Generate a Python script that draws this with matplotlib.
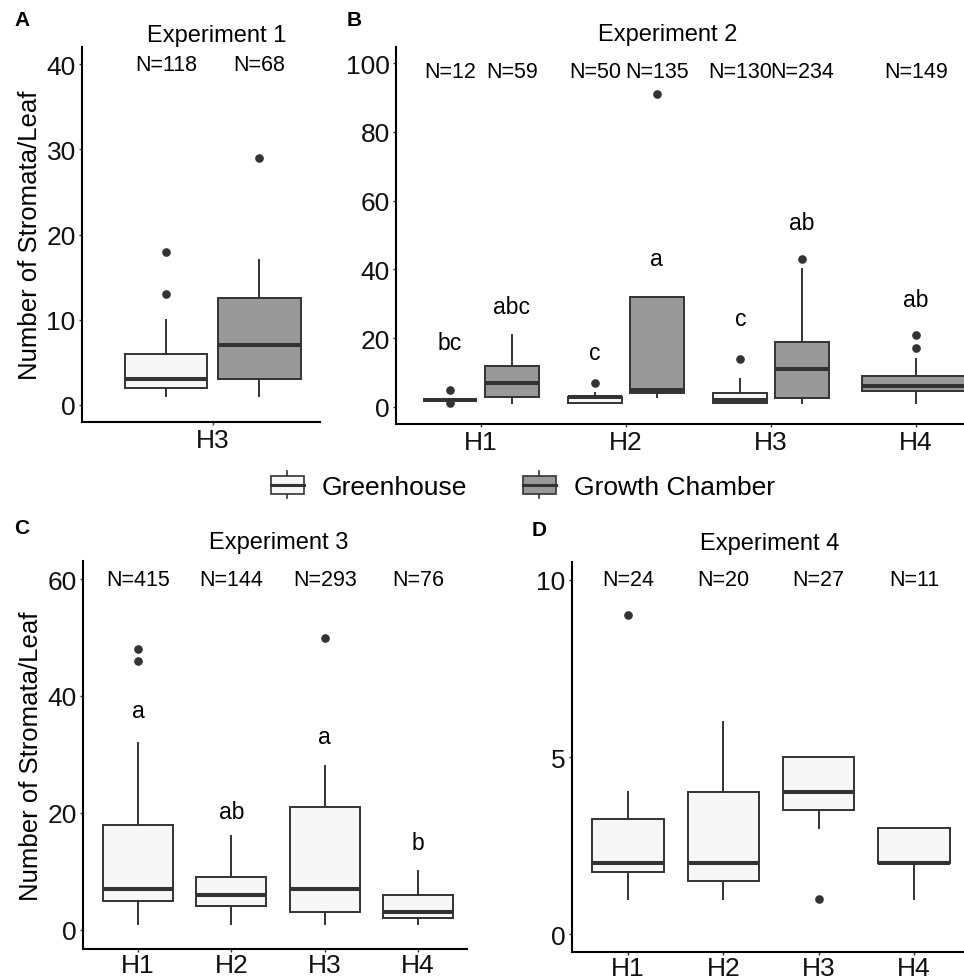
import matplotlib
matplotlib.use("Agg")
import matplotlib.pyplot as plt
from matplotlib.patches import Patch, Rectangle
from matplotlib.lines import Line2D
from matplotlib.legend_handler import HandlerBase

plt.rcParams["font.family"] = ["Liberation Sans", "DejaVu Sans"]

EDGE = "#333333"
GH_FILL = "#F7F7F7"
GC_FILL = "#999999"

# ---- Experiment 1 (H3 only) ----
exp1_hybrids = ["H3"]
exp1_gh = dict(q1=[2], med=[3], q3=[6], lo=[1], hi=[10], fliers=[[13, 18]])
exp1_gc = dict(q1=[3], med=[7], q3=[12.5], lo=[1], hi=[17], fliers=[[29]])
exp1_n_gh = [118]
exp1_n_gc = [68]

# ---- Experiment 2 ----
exp2_hybrids = ["H1", "H2", "H3", "H4"]
exp2_gh = dict(q1=[2, 1, 1], med=[2, 3, 2], q3=[2, 3, 4], lo=[2, 1, 1], hi=[2, 4, 8],
               fliers=[[1, 5], [7], [14]])
exp2_gc = dict(q1=[3, 4, 2.5, 4.5], med=[7, 5, 11, 6], q3=[12, 32, 19, 9],
               lo=[1, 3, 1, 1], hi=[21, 32, 40, 14], fliers=[[], [91], [43], [17, 21]])
exp2_n_gh = [12, 50, 130]
exp2_n_gc = [59, 135, 234, 149]
exp2_let_gh = ["bc", "c", "c"]
exp2_let_gh_y = [18.6, 15.7, 25.6]
exp2_let_gc = ["abc", "a", "ab", "ab"]
exp2_let_gc_y = [29.3, 43.3, 53.5, 31.2]

# ---- Experiment 3 (greenhouse) ----
exp3_hybrids = ["H1", "H2", "H3", "H4"]
exp3_gh = dict(q1=[5, 4, 3, 2], med=[7, 6, 7, 3], q3=[18, 9, 21, 6], lo=[1, 1, 1, 1],
               hi=[32, 16, 28, 10], fliers=[[46, 48], [], [50], []])
exp3_n = [415, 144, 293, 76]
exp3_let = ["a", "ab", "a", "b"]
exp3_let_y = [37.6, 20.2, 33, 14.9]

# ---- Experiment 4 (greenhouse) ----
exp4_hybrids = ["H1", "H2", "H3", "H4"]
exp4_gh = dict(q1=[1.75, 1.5, 3.5, 2], med=[2, 2, 4, 2], q3=[3.25, 4, 5, 3],
               lo=[1, 1, 3, 1], hi=[4, 6, 5, 3], fliers=[[9], [], [1], []])
exp4_n = [24, 20, 27, 11]

W, H = 964, 979
fig = plt.figure(figsize=(W / 100, H / 100), dpi=100)


def add_ax(left, top, right, bottom):
    return fig.add_axes([left / W, 1 - bottom / H, (right - left) / W, (bottom - top) / H])


def stats(d):
    return [dict(q1=a, med=b, q3=c, whislo=lo, whishi=hi, fliers=f)
            for a, b, c, lo, hi, f in zip(d["q1"], d["med"], d["q3"], d["lo"], d["hi"], d["fliers"])]


def draw(ax, d, pos, width, fill):
    ax.bxp(stats(d), positions=pos, widths=width, patch_artist=True, showcaps=False,
           boxprops=dict(facecolor=fill, edgecolor=EDGE, linewidth=1.4),
           medianprops=dict(color=EDGE, linewidth=2.9, solid_capstyle="butt"),
           whiskerprops=dict(color=EDGE, linewidth=1.4),
           flierprops=dict(marker="o", markerfacecolor=EDGE, markeredgecolor=EDGE, markersize=5.2),
           manage_ticks=False)


def style(ax, hybrids, yticks, xlim, ylim, xpad=2):
    for s in ["top", "right"]:
        ax.spines[s].set_visible(False)
    for s in ["left", "bottom"]:
        ax.spines[s].set_linewidth(1.5)
        ax.spines[s].set_color("black")
    ax.set_xticks(range(1, len(hybrids) + 1))
    ax.set_xticklabels(hybrids)
    ax.set_yticks(yticks)
    ax.set_xlim(*xlim)
    ax.set_ylim(*ylim)
    ax.tick_params(labelsize=19, length=2.5, width=1, color=EDGE, labelcolor="#111111", pad=2)
    ax.tick_params(axis="x", pad=xpad)
    ax.set_facecolor("none")


off, bw = 0.2125, 0.375
NFS, LFS = 15.5, 16.5

# Panel A
axA = add_ax(82, 48, 320, 423)
xa = [i + 1 for i in range(len(exp1_hybrids))]
draw(axA, exp1_gh, [x - off for x in xa], bw, GH_FILL)
draw(axA, exp1_gc, [x + off for x in xa], bw, GC_FILL)
for x, n in zip(xa, exp1_n_gh):
    axA.text(x - off, 40, f"N={n}", ha="center", va="center", fontsize=NFS)
for x, n in zip(xa, exp1_n_gc):
    axA.text(x + off, 40, f"N={n}", ha="center", va="center", fontsize=NFS)
style(axA, exp1_hybrids, [0, 10, 20, 30, 40], (0.402, 1.489), (-2, 42))
axA.set_ylabel("Number of Stromata/Leaf", fontsize=18.5, labelpad=3)

# Panel B
axB = add_ax(396, 48, 964, 425)
xb_gh = [i + 1 - off for i in range(len(exp2_gh["q1"]))]
xb_gc = [i + 1 + off for i in range(len(exp2_gc["q1"]))]
xb_gc[-1] = len(exp2_gc["q1"])  # H4 has only growth chamber
draw(axB, exp2_gh, xb_gh, bw, GH_FILL)
draw(axB, {k: v[:3] for k, v in exp2_gc.items()}, xb_gc[:3], bw, GC_FILL)
draw(axB, {k: v[3:] for k, v in exp2_gc.items()}, xb_gc[3:], 2 * bw, GC_FILL)
for x, n in zip(xb_gh, exp2_n_gh):
    axB.text(x, 97.6, f"N={n}", ha="center", va="center", fontsize=NFS)
for x, n in zip(xb_gc, exp2_n_gc):
    axB.text(x, 97.6, f"N={n}", ha="center", va="center", fontsize=NFS)
for x, t, y in zip(xb_gh, exp2_let_gh, exp2_let_gh_y):
    axB.text(x, y, t, ha="center", va="center", fontsize=LFS)
for x, t, y in zip(xb_gc, exp2_let_gc, exp2_let_gc_y):
    axB.text(x, y, t, ha="center", va="center", fontsize=LFS)
style(axB, exp2_hybrids, [0, 20, 40, 60, 80, 100], (0.414, 4.33), (-5, 104.7))

# Panel C
axC = add_ax(83, 562, 467, 950)
xc = [i + 1 for i in range(len(exp3_hybrids))]
draw(axC, exp3_gh, xc, 2 * bw, GH_FILL)
for x, n in zip(xc, exp3_n):
    axC.text(x, 60, f"N={n}", ha="center", va="center", fontsize=NFS)
for x, t, y in zip(xc, exp3_let, exp3_let_y):
    axC.text(x, y, t, ha="center", va="center", fontsize=LFS)
style(axC, exp3_hybrids, [0, 20, 40, 60], (0.41, 4.525), (-3.3, 63.1), xpad=0.5)
axC.set_ylabel("Number of Stromata/Leaf", fontsize=18.5, labelpad=3)

# Panel D
axD = add_ax(572, 563, 964, 953)
xd = [i + 1 for i in range(len(exp4_hybrids))]
draw(axD, exp4_gh, xd, 2 * bw, GH_FILL)
for x, n in zip(xd, exp4_n):
    axD.text(x, 10, f"N={n}", ha="center", va="center", fontsize=NFS)
style(axD, exp4_hybrids, [0, 5, 10], (0.412, 4.525), (-0.5, 10.5), xpad=0.2)

# titles and panel letters
for x, y, t in [(217, 36, "Experiment 1"), (668, 35, "Experiment 2"),
                (279, 543, "Experiment 3"), (770, 544, "Experiment 4")]:
    fig.text(x / W, 1 - y / H, t, ha="center", va="center", fontsize=17)
for x, y, t in [(22, 20, "A"), (354, 20, "B"), (22, 528, "C"), (539, 531, "D")]:
    fig.text(x / W, 1 - y / H, t, ha="center", va="center", fontsize=15, fontweight="bold")


class BoxKey(HandlerBase):
    def create_artists(self, legend, orig_handle, xdescent, ydescent, width, height, fontsize, trans):
        x0, y0 = -xdescent, -ydescent
        bh = height * 0.68
        by = y0 + (height - bh) / 2
        cx = x0 + width / 2
        rect = Rectangle((x0, by), width, bh, facecolor=orig_handle.get_facecolor(),
                         edgecolor=EDGE, lw=1.2, transform=trans)
        med = Line2D([x0, x0 + width], [y0 + height / 2] * 2, color=EDGE, lw=2.2, transform=trans)
        wt = Line2D([cx, cx], [by + bh, y0 + height], color=EDGE, lw=1.2, transform=trans)
        wb = Line2D([cx, cx], [y0, by], color=EDGE, lw=1.2, transform=trans)
        return [wt, wb, rect, med]


handles = [Patch(facecolor=GH_FILL), Patch(facecolor=GC_FILL)]
fig.legend(handles, ["Greenhouse", "Growth Chamber"], handler_map={Patch: BoxKey()},
           loc="center", bbox_to_anchor=(523 / W, 1 - 486 / H), ncol=2, frameon=False,
           fontsize=19, handlelength=1.25, handleheight=1.2, handletextpad=0.7,
           columnspacing=2.1, borderpad=0)

fig.savefig("out.png", dpi=100, facecolor="white")
